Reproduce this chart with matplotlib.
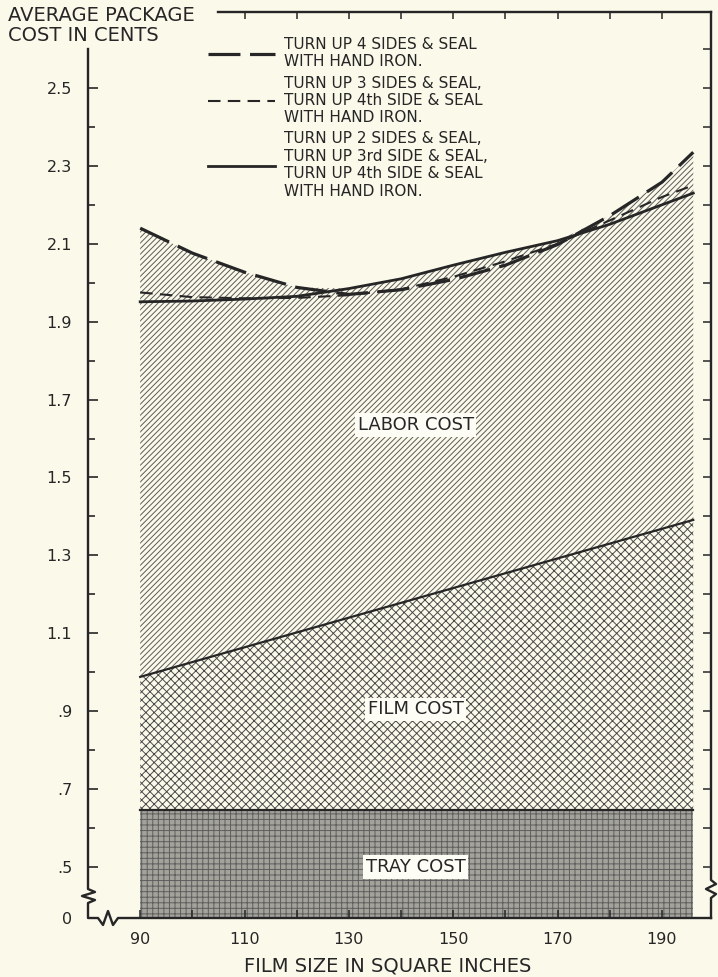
import numpy as np
import matplotlib
matplotlib.use('Agg')
import matplotlib.pyplot as plt

# film size (sq in) and average package cost (cents)
x_size = [90, 100, 110, 120, 130, 140, 150, 160, 170, 180, 190, 196]
four_sides = [2.14, 2.076, 2.027, 1.988, 1.970, 1.982, 2.008, 2.045, 2.098, 2.172, 2.258, 2.335]
three_one = [1.975, 1.963, 1.960, 1.961, 1.968, 1.983, 2.015, 2.055, 2.100, 2.160, 2.220, 2.250]
two_one_one = [1.951, 1.953, 1.958, 1.965, 1.985, 2.010, 2.045, 2.078, 2.108, 2.150, 2.200, 2.230]
film_x = [90, 196]
film_cost = [0.988, 1.391]
tray_cost = 0.645

legend_labels = ["TURN UP 4 SIDES & SEAL\nWITH HAND IRON.",
                 "TURN UP 3 SIDES & SEAL,\nTURN UP 4th SIDE & SEAL\nWITH HAND IRON.",
                 "TURN UP 2 SIDES & SEAL,\nTURN UP 3rd SIDE & SEAL,\nTURN UP 4th SIDE & SEAL\nWITH HAND IRON."]
xtick_vals = [90, 110, 130, 150, 170, 190]
xtick_minor = [100, 120, 140, 160, 180]
top_ticks = [110, 120, 130, 140, 150, 160, 170, 180, 190]
ytick_vals = [0.5, 0.7, 0.9, 1.1, 1.3, 1.5, 1.7, 1.9, 2.1, 2.3, 2.5]
ytick_labels = ['.5', '.7', '.9', '1.1', '1.3', '1.5', '1.7', '1.9', '2.1', '2.3', '2.5']
ytick_minor = [0.6, 0.8, 1.0, 1.2, 1.4, 1.6, 1.8, 2.0, 2.2, 2.4]
right_ticks = [round(0.5 + 0.1 * i, 1) for i in range(22)]

bg = '#fbf9ea'
ink = '#262626'
plt.rcParams['font.family'] = ['DejaVu Sans']
plt.rcParams['hatch.linewidth'] = 0.7

W, H = 718, 977
L, R, T, B = 88, 711, 12, 918   # frame in pixels
y0, y1 = 0.369, 2.695           # bottom of frame is drawn as "0" (broken axis)
xlo, xhi = 80.0, 199.4

fig = plt.figure(figsize=(W / 100, H / 100), dpi=100, facecolor=bg)
ax = fig.add_axes([L / W, 1 - B / H, (R - L) / W, (B - T) / H])
ax.set_facecolor(bg)
ax.set_xlim(xlo, xhi)
ax.set_ylim(y0, y1)
for s in ax.spines.values():
    s.set_visible(False)

xs = np.array(x_size)
film_at = np.interp(xs, film_x, film_cost)
top_env = np.maximum(np.maximum(four_sides, three_one), two_one_one)

# stacked cost areas
ax.fill_between(film_x, [y0, y0], [tray_cost, tray_cost], facecolor='#a3a39c', edgecolor='#5e5e5e',
                hatch='+++', lw=0, zorder=1)
ax.fill_between(film_x, [tray_cost, tray_cost], film_cost, facecolor=bg, edgecolor='#4a4a4a',
                hatch='xxxx', lw=0, zorder=1)
ax.fill_between(xs, film_at, top_env, facecolor=bg, edgecolor='#5a5a5a',
                hatch='//////', lw=0, zorder=1)
ax.plot(film_x, [tray_cost, tray_cost], color=ink, lw=1.6, zorder=3)
ax.plot(film_x, film_cost, color=ink, lw=1.6, zorder=3)

# method curves
l1, = ax.plot(xs, four_sides, color=ink, lw=2.3, dashes=(10, 3), zorder=4)
l2, = ax.plot(xs, three_one, color=ink, lw=1.5, dashes=(6, 3.5), zorder=4)
l3, = ax.plot(xs, two_one_one, color=ink, lw=2.0, zorder=4)

fig.legend([l1, l2, l3], legend_labels, loc='upper left',
           bbox_to_anchor=(208 / W, 1 - 37 / H), frameon=False, fontsize=11,
           handlelength=4.4, handletextpad=0.6, labelspacing=0.4,
           borderpad=0, borderaxespad=0, labelcolor=ink)

box = dict(facecolor='#fdfdf6', edgecolor='none', pad=2)
for lab, yv in [("LABOR COST", 1.635), ("FILM COST", 0.905), ("TRAY COST", 0.50)]:
    ax.text(142.8, yv, lab, ha='center', va='center', fontsize=13, color=ink, bbox=box, zorder=5)

# ticks
ax.set_xticks(xtick_vals, [str(v) for v in xtick_vals])
ax.set_xticks(xtick_minor, minor=True)
ax.tick_params(axis='x', which='both', direction='in', length=6, width=1.1, color=ink,
               pad=10, labelsize=11.5, labelcolor=ink)
ax.set_yticks([y0] + ytick_vals, ['0'] + ytick_labels)
ax.set_yticks(ytick_minor, minor=True)
ax.tick_params(axis='y', which='major', direction='in', length=7, width=1.2, color=ink,
               pad=11.5, labelsize=11.5, labelcolor=ink)
ax.tick_params(axis='y', which='minor', direction='in', length=5, width=1.2, color=ink)

secx = ax.secondary_xaxis('top')
secx.set_xticks(top_ticks)
secx.tick_params(direction='in', length=5, width=1.1, color=ink, labeltop=False)
secx.spines['top'].set_visible(False)
secy = ax.secondary_yaxis('right')
secy.set_yticks(right_ticks)
secy.tick_params(direction='in', length=6, width=1.1, color=ink, labelright=False)
secy.spines['right'].set_visible(False)

# frame with axis breaks, built from pixel offsets
def fx(px):
    return (px - L) / (R - L)

def fy(py):
    return (B - py) / (B - T)

def ydata_frac(v):
    return (v - y0) / (y1 - y0)

ltop = ydata_frac(2.6)
left_bottom_px = [(88, 889), (95, 892), (82, 896), (95, 900), (88, 903), (88, 918),
                  (98, 918), (103, 925), (108, 911), (113, 925), (118, 918), (R, 918)]
lx = [0] + [fx(p[0]) for p in left_bottom_px]
ly = [ltop] + [fy(p[1]) for p in left_bottom_px]
ax.plot(lx, ly, color=ink, lw=1.7, transform=ax.transAxes, clip_on=False, zorder=6)

right_px = [(R, T), (R, 880), (716, 884), (706, 889), (716, 894), (R, 898), (R, B)]
ax.plot([fx(p[0]) for p in right_px], [fy(p[1]) for p in right_px], color=ink, lw=1.7,
        transform=ax.transAxes, clip_on=False, zorder=6)
ax.plot([(105 - xlo) / (xhi - xlo), 1], [1, 1], color=ink, lw=1.7,
        transform=ax.transAxes, clip_on=False, zorder=6)

fig.text(8 / W, 1 - 6 / H, "AVERAGE PACKAGE\nCOST IN CENTS", ha='left', va='top',
         fontsize=14, color=ink, linespacing=1.05)
ax.set_xlabel("FILM SIZE IN SQUARE INCHES", fontsize=14, color=ink)
ax.xaxis.set_label_coords(fx(388), fy(956))

fig.savefig('out.png', dpi=100, facecolor=bg)
